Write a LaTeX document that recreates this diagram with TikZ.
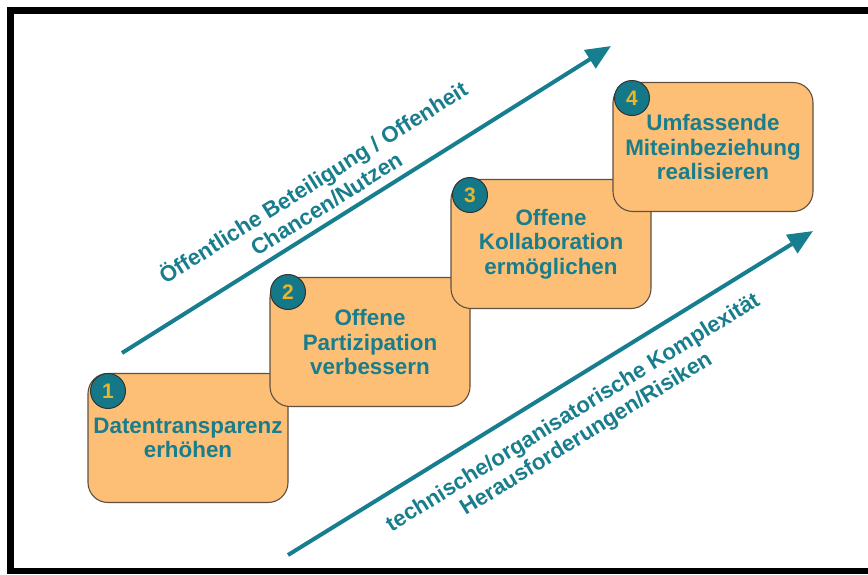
\documentclass[tikz,border=0pt]{standalone}
\usepackage{fontspec}
\setmainfont{Liberation Sans}
\usetikzlibrary{arrows.meta}
\definecolor{tealtext}{RGB}{24,125,140}
\definecolor{tealarrow}{RGB}{22,126,142}
\definecolor{boxfill}{RGB}{253,191,117}
\definecolor{boxline}{RGB}{95,80,65}
\definecolor{numcol}{RGB}{236,180,40}
\definecolor{circfill}{RGB}{20,120,136}
\begin{document}
\begin{tikzpicture}[x=1pt,y=-1pt,
  stepbox/.style={draw=boxline, line width=1.1pt, fill=boxfill, rounded corners=20pt,
    minimum width=200pt, minimum height=129pt, inner sep=0pt, align=center,
    text=tealtext, font=\bfseries\fontsize{22.4}{24.5}\selectfont},
  numcirc/.style={circle, draw=black!80, line width=1pt, fill=circfill, minimum size=35pt,
    inner sep=0pt, text=numcol, font=\bfseries\fontsize{21}{21}\selectfont},
  bigarrow/.style={draw=tealarrow, line width=4pt, -{Triangle[length=25pt,width=21pt]}},
  arrowlabel/.style={align=center, text=tealtext, font=\bfseries\fontsize{22.2}{25}\selectfont, inner sep=0pt}]
\useasboundingbox (0,0) rectangle (868,574);
% frame
\fill[black] (7,7) rectangle (868,14);
\fill[black] (7,7) rectangle (14,574);
\fill[black] (7,568) rectangle (868,574);
% arrows
\coordinate (a1s) at (122,353);
\coordinate (a1e) at (611,46);
\coordinate (a2s) at (288,555);
\coordinate (a2e) at (813,231);
\draw[bigarrow] (a1s) -- (a1e);
\draw[bigarrow] (a2s) -- (a2e);
\node[arrowlabel, rotate=32.1] (lab1) at (319,192) {Öffentliche Beteiligung / Offenheit\\Chancen/Nutzen};
\node[arrowlabel, rotate=31.7] (lab2) at (580,424) {technische/organisatorische Komplexität\\Herausforderungen/Risiken};
% boxes
\node[stepbox] (box1) at (188,438) {Datentransparenz\\erhöhen};
\node[numcirc] (n1) at (108,391) {1};
\node[stepbox] (box2) at (370,342) {Offene\\Partizipation\\verbessern};
\node[numcirc] (n2) at (288,292) {2};
\node[stepbox] (box3) at (551,244) {Offene\\Kollaboration\\ermöglichen};
\node[numcirc] (n3) at (470,195) {3};
\node[stepbox] (box4) at (713,147) {Umfassende\\Miteinbeziehung\\realisieren};
\node[numcirc] (n4) at (632,98) {4};
\end{tikzpicture}
\end{document}
